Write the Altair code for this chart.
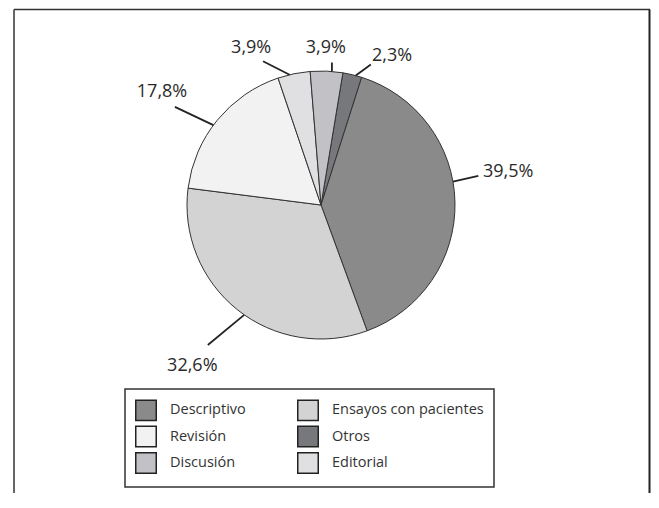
import math
import altair as alt
import pandas as pd

# ---- data (pie order, clockwise from the top) ----
categories = ["Otros", "Descriptivo", "Ensayos con pacientes", "Revisión", "Editorial", "Discusión"]
values = [2.3, 39.5, 32.6, 17.8, 3.9, 3.9]

# legend order (column-major: 1st column then 2nd column) and colours
legend_order = ["Descriptivo", "Revisión", "Discusión", "Ensayos con pacientes", "Otros", "Editorial"]
legend_colors = ["#8a8a8a", "#f2f2f2", "#c2c2c6", "#d3d3d3", "#76787b", "#e0e0e2"]

# ---- label layout (degrees offset from slice mid-angle, radii in px) ----
lead_in_shift = [1.5, -8.8, -3.6, -2.7, -1.9, 2.3]
lead_out_shift = [6.0, -9.3, 0.4, -5.4, -10.3, 2.0]
lead_out_r = [149, 160, 180, 176, 155, 143]
text_shift = [12.0, -8.8, 0.1, -3.9, -12.3, -0.6]
text_r = [165, 190, 206, 195, 172, 157]

START = math.radians(9.4)
CX, CY, R = 313, 197, 134
W, H = 643, 485
FONT = "Open Sans"

df = pd.DataFrame({
    "category": categories,
    "value": values,
    "order": list(range(len(categories))),
    "lead_in_shift": lead_in_shift,
    "lead_out_shift": lead_out_shift,
    "lead_out_r": lead_out_r,
    "text_shift": text_shift,
    "text_r": text_r,
})

base = (
    alt.Chart(df)
    .transform_window(cum="sum(value)", sort=[alt.SortField("order")])
    .transform_calculate(
        start="datum.cum - datum.value",
        end="datum.cum",
        mid="datum.cum - datum.value / 2",
    )
    .transform_calculate(
        amid=f"{START} + datum.mid / 100 * 2 * PI",
        label="replace(format(datum.value, '.1f'), '.', ',') + '%'",
    )
    .transform_calculate(
        ain="datum.amid + datum.lead_in_shift * PI / 180",
        aout="datum.amid + datum.lead_out_shift * PI / 180",
        atxt="datum.amid + datum.text_shift * PI / 180",
    )
    .transform_calculate(
        x1=f"{CX} + {R} * sin(datum.ain)",
        y1=f"{CY} - {R} * cos(datum.ain)",
        x2=f"{CX} + datum.lead_out_r * sin(datum.aout)",
        y2=f"{CY} - datum.lead_out_r * cos(datum.aout)",
        tx=f"{CX} + datum.text_r * sin(datum.atxt)",
        ty=f"{CY} - datum.text_r * cos(datum.atxt)",
    )
)

arcs = base.mark_arc(radius=R, stroke="#333333", strokeWidth=1).encode(
    theta=alt.Theta("start:Q", scale=alt.Scale(domain=[0, 100], range=[START, START + 2 * math.pi])),
    theta2=alt.Theta2("end:Q"),
    color=alt.Color(
        "category:N",
        scale=alt.Scale(domain=legend_order, range=legend_colors),
        legend=alt.Legend(
            title=None,
            orient="none",
            legendX=117,
            legendY=381,
            columns=2,
            columnPadding=48,
            rowPadding=-1.5,
            symbolType="square",
            symbolSize=420,
            symbolStrokeColor="#222222",
            symbolStrokeWidth=1.5,
            symbolOpacity=1,
            labelFont=FONT,
            labelFontSize=14.5,
            labelColor="#333333",
            labelOffset=13,
            padding=10,
            strokeColor="#333333",
        ),
    ),
    x=alt.value(CX),
    y=alt.value(CY),
)

leaders = base.mark_rule(color="#222222", strokeWidth=1.8).encode(
    x=alt.X("x1:Q", scale=None, axis=None),
    y=alt.Y("y1:Q", scale=None, axis=None),
    x2="x2:Q",
    y2="y2:Q",
)

labels = base.mark_text(
    font=FONT, fontSize=18, color="#2a2a2a", align="center", baseline="middle"
).encode(
    x=alt.X("tx:Q", scale=None, axis=None),
    y=alt.Y("ty:Q", scale=None, axis=None),
    text="label:N",
)

one = pd.DataFrame({"f": [0]})
frame_left = alt.Chart(one).mark_rule(color="#666666", strokeWidth=2).encode(
    x=alt.value(6), y=alt.value(1.5), y2=alt.value(H)
)
frame_top = alt.Chart(one).mark_rule(color="#333333", strokeWidth=1.5).encode(
    x=alt.value(6), x2=alt.value(642), y=alt.value(1.5)
)
frame_right = alt.Chart(one).mark_rule(color="#222222", strokeWidth=2).encode(
    x=alt.value(641.5), y=alt.value(1.5), y2=alt.value(H)
)

chart = (
    alt.layer(frame_left, frame_top, frame_right, arcs, leaders, labels)
    .properties(width=W, height=H, autosize=alt.AutoSizeParams(type="none"), padding=0)
    .configure_view(stroke=None)
    .configure_legend(strokeWidth=1.5)
)

chart.save("out.html", embed_options={"renderer": "svg", "actions": False})
